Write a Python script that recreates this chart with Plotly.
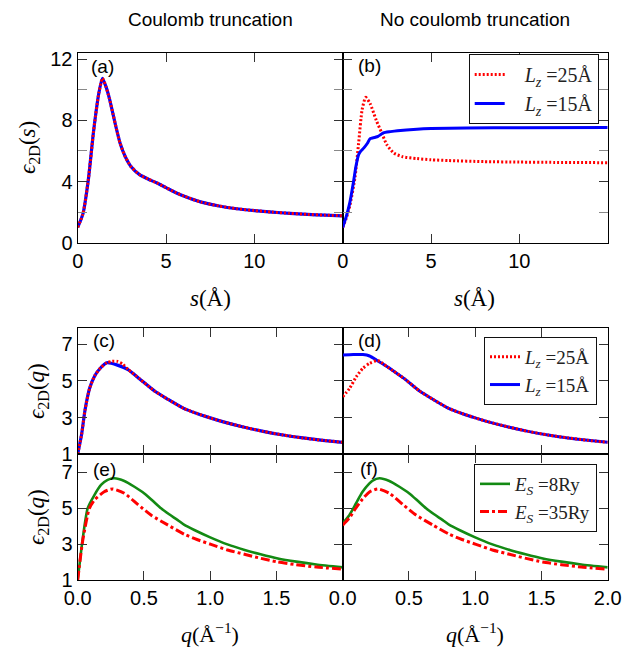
import plotly.graph_objects as go

W, H = 631, 648
OFF = 8  # page body margin in the browser: figure origin sits 8px right/down

# ---------------- data ----------------
# (a) Coulomb truncation, real space (both Lz identical)
s_a = [0, 0.3, 0.6, 0.9, 1.2, 1.4, 1.6, 1.8, 2.0, 2.2, 2.4, 2.7, 3.0, 3.5, 4, 4.5, 5, 5.5, 6, 7, 8, 9, 10, 11, 12, 13, 14, 15]
eps_a = [1.0, 1.9, 4.1, 7.3, 9.8, 10.75, 10.2, 9.4, 8.4, 7.4, 6.5, 5.6, 5.0, 4.45, 4.15, 3.9, 3.6, 3.3, 3.05, 2.65, 2.4, 2.22, 2.1, 2.0, 1.92, 1.85, 1.8, 1.76]

# (b) no truncation, real space
s_b25 = [0, 0.2, 0.4, 0.7, 0.9, 1.1, 1.3, 1.55, 1.9, 2.2, 2.5, 2.9, 3.4, 4.2, 5, 6, 8, 10, 12, 15]
eps_b25 = [1.0, 1.6, 2.4, 4.3, 6.5, 8.7, 9.5, 9.1, 8.0, 7.2, 6.4, 5.85, 5.62, 5.5, 5.42, 5.37, 5.3, 5.27, 5.25, 5.23]
s_b15 = [0, 0.2, 0.4, 0.6, 0.75, 0.9, 1.0, 1.2, 1.4, 1.55, 1.8, 2.0, 2.3, 2.7, 3.1, 4.2, 5, 7, 10, 15]
eps_b15 = [1.0, 1.7, 2.6, 3.9, 5.0, 5.75, 5.95, 6.2, 6.5, 6.8, 6.88, 6.95, 7.18, 7.26, 7.32, 7.42, 7.46, 7.5, 7.52, 7.53]

# (c) Coulomb truncation, reciprocal space
q_c15 = [0, 0.03, 0.055, 0.09, 0.13, 0.17, 0.22, 0.3, 0.38, 0.47, 0.58, 0.68, 0.8, 0.9, 1.0, 1.1, 1.25, 1.4, 1.55, 1.7, 1.85, 2.0]
eps_c15 = [1.0, 2.1, 3.4, 4.6, 5.3, 5.7, 6.0, 5.87, 5.62, 5.1, 4.45, 4.0, 3.5, 3.22, 2.98, 2.76, 2.48, 2.24, 2.04, 1.88, 1.75, 1.64]
q_c25 = [0, 0.03, 0.055, 0.09, 0.13, 0.17, 0.22, 0.26, 0.3, 0.34, 0.38, 0.47, 0.58, 0.68, 0.8, 0.9, 1.0, 1.1, 1.25, 1.4, 1.55, 1.7, 1.85, 2.0]
eps_c25 = [1.0, 2.1, 3.4, 4.6, 5.3, 5.7, 6.0, 6.08, 6.07, 5.92, 5.64, 5.1, 4.45, 4.0, 3.5, 3.22, 2.98, 2.76, 2.48, 2.24, 2.04, 1.88, 1.75, 1.64]

# (d) no truncation, reciprocal space
q_d25 = [0, 0.052, 0.103, 0.153, 0.203, 0.254, 0.28, 0.304, 0.34, 0.38, 0.47, 0.58, 0.68, 0.8, 0.9, 1.0, 1.1, 1.25, 1.4, 1.55, 1.7, 1.85, 2.0]
eps_d25 = [4.14, 4.6, 5.24, 5.7, 5.97, 6.11, 6.08, 5.95, 5.76, 5.56, 5.1, 4.45, 4.0, 3.5, 3.22, 2.98, 2.76, 2.48, 2.24, 2.04, 1.88, 1.75, 1.64]
q_d15 = [0, 0.08, 0.153, 0.203, 0.254, 0.304, 0.34, 0.38, 0.47, 0.58, 0.68, 0.8, 0.9, 1.0, 1.1, 1.25, 1.4, 1.55, 1.7, 1.85, 2.0]
eps_d15 = [6.42, 6.45, 6.45, 6.37, 6.15, 5.93, 5.76, 5.56, 5.1, 4.45, 4.0, 3.5, 3.22, 2.98, 2.76, 2.48, 2.24, 2.04, 1.88, 1.75, 1.64]

# (e) Coulomb truncation, two cutoffs
q_e8 = [0, 0.038, 0.075, 0.126, 0.176, 0.226, 0.277, 0.352, 0.428, 0.503, 0.566, 0.629, 0.69, 0.755, 0.805, 0.88, 1.0, 1.13, 1.26, 1.38, 1.51, 1.65, 1.8, 2.0]
eps_e8 = [1.0, 3.3, 4.98, 5.72, 6.28, 6.56, 6.65, 6.5, 6.18, 5.81, 5.4, 4.98, 4.65, 4.33, 4.06, 3.78, 3.37, 2.98, 2.67, 2.43, 2.2, 2.02, 1.86, 1.7]
q_e35 = [0, 0.038, 0.088, 0.126, 0.2, 0.264, 0.352, 0.453, 0.553, 0.679, 0.805, 0.9, 1.006, 1.13, 1.258, 1.384, 1.51, 1.65, 1.8, 2.0]
eps_e35 = [1.0, 3.2, 4.98, 5.44, 5.9, 6.06, 5.82, 5.2, 4.61, 4.06, 3.54, 3.25, 2.98, 2.67, 2.43, 2.2, 2.0, 1.85, 1.72, 1.6]

# (f) no truncation, two cutoffs
q_f8 = [0, 0.05, 0.1, 0.15, 0.2, 0.226, 0.277, 0.352, 0.428, 0.503, 0.566, 0.629, 0.69, 0.755, 0.805, 0.88, 1.0, 1.13, 1.26, 1.38, 1.51, 1.65, 1.8, 2.0]
eps_f8 = [4.15, 4.6, 5.25, 5.9, 6.35, 6.52, 6.65, 6.5, 6.18, 5.81, 5.4, 4.98, 4.65, 4.33, 4.06, 3.78, 3.37, 2.98, 2.67, 2.43, 2.2, 2.02, 1.86, 1.7]
q_f35 = [0, 0.05, 0.1, 0.15, 0.2, 0.264, 0.352, 0.453, 0.553, 0.679, 0.805, 0.9, 1.006, 1.13, 1.258, 1.384, 1.51, 1.65, 1.8, 2.0]
eps_f35 = [4.05, 4.45, 5.0, 5.5, 5.88, 6.06, 5.82, 5.2, 4.61, 4.06, 3.54, 3.25, 2.98, 2.67, 2.43, 2.2, 2.0, 1.85, 1.72, 1.6]

col_titles = ["Coulomb truncation", "No coulomb truncation"]
panel_labels = ["(a)", "(b)", "(c)", "(d)", "(e)", "(f)"]
s_ticks = [0, 5, 10]
q_ticks_e = [0, 0.5, 1.0, 1.5]
q_ticks_f = [0, 0.5, 1.0, 1.5, 2.0]

RED = "#ff0000"
BLUE = "#0000ff"
GREEN = "#138a13"
SANS = "Liberation Sans, Arial, sans-serif"
SERIF = "Liberation Serif, DejaVu Serif, serif"
SM = 0.6  # spline smoothing


def px_x(p):
    return (p - OFF) / W


def px_y(p):
    return 1 - (p - OFF) / H


def ln(color, width, dash="solid"):
    return dict(color=color, width=width, dash=dash, shape="spline", smoothing=SM)


DOT = "2px,2px"
fig = go.Figure()

# panel (a)
fig.add_trace(go.Scatter(x=s_a, y=eps_a, mode="lines", line=ln(BLUE, 3.2),
                         showlegend=False, xaxis="x", yaxis="y"))
fig.add_trace(go.Scatter(x=s_a, y=eps_a, mode="lines", line=ln(RED, 3, DOT),
                         showlegend=False, xaxis="x", yaxis="y"))
# panel (b)
fig.add_trace(go.Scatter(x=s_b25, y=eps_b25, mode="lines", line=ln(RED, 3, DOT),
                         name="&#160;&#160;&#160;<i>L<sub>z</sub></i> =25Å", legend="legend", legendrank=1,
                         xaxis="x2", yaxis="y2"))
fig.add_trace(go.Scatter(x=s_b15, y=eps_b15, mode="lines", line=ln(BLUE, 3),
                         name="&#160;&#160;&#160;<i>L<sub>z</sub></i> =15Å", legend="legend", legendrank=2,
                         xaxis="x2", yaxis="y2"))
# panel (c)
fig.add_trace(go.Scatter(x=q_c15, y=eps_c15, mode="lines", line=ln(BLUE, 3.2),
                         showlegend=False, xaxis="x3", yaxis="y3"))
fig.add_trace(go.Scatter(x=q_c25, y=eps_c25, mode="lines", line=ln(RED, 3, DOT),
                         showlegend=False, xaxis="x3", yaxis="y3"))
# panel (d)
fig.add_trace(go.Scatter(x=q_d15, y=eps_d15, mode="lines", line=ln(BLUE, 3),
                         name="<i>L<sub>z</sub></i> =15Å", legend="legend2", legendrank=2,
                         xaxis="x4", yaxis="y4"))
fig.add_trace(go.Scatter(x=q_d25, y=eps_d25, mode="lines", line=ln(RED, 3, DOT),
                         name="<i>L<sub>z</sub></i> =25Å", legend="legend2", legendrank=1,
                         xaxis="x4", yaxis="y4"))
# panel (e)
fig.add_trace(go.Scatter(x=q_e8, y=eps_e8, mode="lines", line=ln(GREEN, 2.6),
                         showlegend=False, xaxis="x5", yaxis="y5"))
fig.add_trace(go.Scatter(x=q_e35, y=eps_e35, mode="lines", line=ln(RED, 3, "dashdot"),
                         showlegend=False, xaxis="x5", yaxis="y5"))
# panel (f)
fig.add_trace(go.Scatter(x=q_f8, y=eps_f8, mode="lines", line=ln(GREEN, 2.6),
                         name="<i>E<sub>S</sub></i> =8Ry", legend="legend3", legendrank=1,
                         xaxis="x6", yaxis="y6"))
fig.add_trace(go.Scatter(x=q_f35, y=eps_f35, mode="lines", line=ln(RED, 3, "dashdot"),
                         name="<i>E<sub>S</sub></i> =35Ry", legend="legend3", legendrank=2,
                         xaxis="x6", yaxis="y6"))

# geometry (screen pixels)
XL, XM, XR = 77.7, 342.7, 607.7
ROW1 = (52.7, 242.7)
ROW2 = (327.7, 454.0)
ROW3 = (454.0, 580.0)

axis_common = dict(showline=True, mirror="ticks", linecolor="black", linewidth=1.4,
                   ticks="inside", ticklen=9, tickwidth=1.3, tickcolor="#333",
                   showgrid=False, zeroline=False, automargin=False,
                   tickfont=dict(family=SANS, size=20, color="black"))


def xdom(c):
    return [px_x(XL), px_x(XM)] if c == 0 else [px_x(XM), px_x(XR)]


def ydom(r):
    return [px_y(r[1]), px_y(r[0])]


layout = dict(width=W, height=H, autosize=False,
              margin=dict(l=0, r=0, t=0, b=0, pad=0, autoexpand=False),
              paper_bgcolor="white", plot_bgcolor="white", showlegend=True)

minor_top = dict(tickvals=[2, 6, 10], ticks="inside", ticklen=9, tickwidth=1.3, tickcolor="#888")
# row 1
layout["xaxis"] = dict(axis_common, domain=xdom(0), range=[0, 15], tickvals=s_ticks, anchor="y")
layout["yaxis"] = dict(axis_common, domain=ydom(ROW1), range=[0, 12.42], tickvals=[0, 4, 8, 12], anchor="x",
                       minor=minor_top)
layout["xaxis2"] = dict(axis_common, domain=xdom(1), range=[0, 15], tickvals=s_ticks, anchor="y2")
layout["yaxis2"] = dict(axis_common, domain=ydom(ROW1), range=[0, 12.42], tickvals=[0, 4, 8, 12], anchor="x2",
                        showticklabels=False, minor=minor_top)
# row 2
layout["xaxis3"] = dict(axis_common, domain=xdom(0), range=[0, 2], tickvals=q_ticks_e, anchor="y3",
                        showticklabels=False)
layout["yaxis3"] = dict(axis_common, domain=ydom(ROW2), range=[1, 7.92], tickvals=[1, 3, 5, 7], anchor="x3")
layout["xaxis4"] = dict(axis_common, domain=xdom(1), range=[0, 2], tickvals=q_ticks_e, anchor="y4",
                        showticklabels=False)
layout["yaxis4"] = dict(axis_common, domain=ydom(ROW2), range=[1, 7.92], tickvals=[1, 3, 5, 7], anchor="x4",
                        showticklabels=False)
# row 3
layout["xaxis5"] = dict(axis_common, domain=xdom(0), range=[0, 2], tickvals=q_ticks_e,
                        ticktext=["0.0", "0.5", "1.0", "1.5"], anchor="y5")
layout["yaxis5"] = dict(axis_common, domain=ydom(ROW3), range=[1, 8], tickvals=[1, 3, 5, 7], anchor="x5")
layout["xaxis6"] = dict(axis_common, domain=xdom(1), range=[0, 2], tickvals=q_ticks_f,
                        ticktext=["0.0", "0.5", "1.0", "1.5", "2.0"], anchor="y6")
layout["yaxis6"] = dict(axis_common, domain=ydom(ROW3), range=[1, 8], tickvals=[1, 3, 5, 7], anchor="x6",
                        showticklabels=False)

leg_common = dict(bgcolor="white", bordercolor="#111", borderwidth=1,
                  xanchor="right", yanchor="top", traceorder="normal")
layout["legend"] = dict(leg_common, x=px_x(598.7), y=px_y(54),
                        font=dict(family=SERIF, size=20, color="#222"))
layout["legend2"] = dict(leg_common, x=px_x(597), y=px_y(337),
                         font=dict(family=SERIF, size=19, color="#222"))
layout["legend3"] = dict(leg_common, x=px_x(597), y=px_y(464),
                         font=dict(family=SERIF, size=19, color="#222"))

fig.update_layout(**layout)

ann = []
for t, cx in zip(col_titles, [210, 475]):
    ann.append(dict(text=t, x=px_x(cx), y=px_y(20), font=dict(family=SANS, size=19, color="black")))
label_pos = [(89, 67), (356, 65), (91, 341), (356, 341), (91, 469), (358, 468)]
for t, (lx, ly) in zip(panel_labels, label_pos):
    ann.append(dict(text=t, x=px_x(lx), y=px_y(ly), xanchor="left",
                    font=dict(family=SANS, size=19, color="black")))
for cx in [210, 475]:
    ann.append(dict(text="<i>s</i>(Å)", x=px_x(cx), y=px_y(298), font=dict(family=SERIF, size=23, color="black")))
    ann.append(dict(text="<i>q</i>(Å<sup>−1</sup>)", x=px_x(cx), y=px_y(633), font=dict(family=SERIF, size=22, color="black")))
ann.append(dict(text="<i>ϵ</i><sub>2D</sub>(<i>s</i>)", x=px_x(29), y=px_y(148), textangle=-90,
                font=dict(family=SERIF, size=23, color="black")))
for cy in [391, 517]:
    ann.append(dict(text="<i>ϵ</i><sub>2D</sub>(<i>q</i>)", x=px_x(38), y=px_y(cy), textangle=-90,
                    font=dict(family=SERIF, size=23, color="black")))
for a in ann:
    a.update(xref="paper", yref="paper", showarrow=False)
    a.setdefault("xanchor", "center")
    a.setdefault("yanchor", "middle")
fig.update_layout(annotations=ann)

fig.write_html("out.html")
